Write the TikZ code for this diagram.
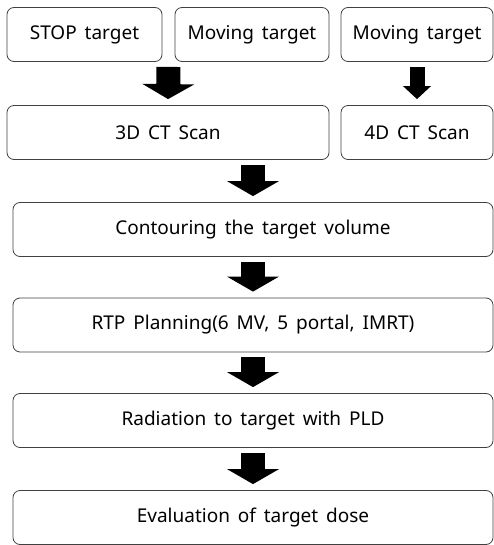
\documentclass[tikz,border=0pt]{standalone}
\usepackage{fontspec}
\setmainfont[WordSpace=1.6]{Noto Sans}
\usetikzlibrary{arrows.meta,calc}
\begin{document}
\begin{tikzpicture}[x=1pt, y=-1pt,
  every node/.style={font=\fontsize{19}{22}\selectfont},
  etapa/.style={draw=black!75, line width=0.8pt, rounded corners=7pt, inner sep=0pt, minimum height=54pt},
  seta/.style={line width=24pt, shorten <=5pt, shorten >=6pt, -{Triangle[width=52pt, length=15pt, line width=0pt]}},
  setinha/.style={line width=15pt, shorten <=5pt, shorten >=6pt, -{Triangle[width=28pt, length=13pt, line width=0pt]}}
]
\useasboundingbox (0,0) rectangle (493,545);
\node[etapa, minimum width=155pt] (parado) at (84.5,34.5) {STOP target};
\node[etapa, minimum width=154pt] (movel1) at (252,34.5) {Moving target};
\node[etapa, minimum width=152pt] (movel2) at (417,34.5) {Moving target};
\node[etapa, minimum width=322pt] (ct3d) at (168,132.5) {3D CT Scan};
\node[etapa, minimum width=152pt] (ct4d) at (417,132.5) {4D CT Scan};
\node[etapa, minimum width=480pt] (contorno) at (253,229.5) {Contouring the target volume};
\node[etapa, minimum width=480pt] (plano) at (253,325) {RTP Planning(6 MV, 5 portal, IMRT)};
\node[etapa, minimum width=480pt] (radiacao) at (253,420.5) {Radiation to target with PLD};
\node[etapa, minimum width=480pt] (avaliacao) at (253,517.5) {Evaluation of target dose};
\coordinate (meio) at ($(parado.south east)!0.5!(movel1.south west)$);
\draw[seta] (meio) -- (ct3d.north);
\draw[setinha] (movel2.south) -- (ct4d.north);
\draw[seta] (contorno.north |- ct3d.south) -- (contorno.north);
\draw[seta] (contorno.south) -- (plano.north);
\draw[seta] (plano.south) -- (radiacao.north);
\draw[seta] (radiacao.south) -- (avaliacao.north);
\end{tikzpicture}
\end{document}
